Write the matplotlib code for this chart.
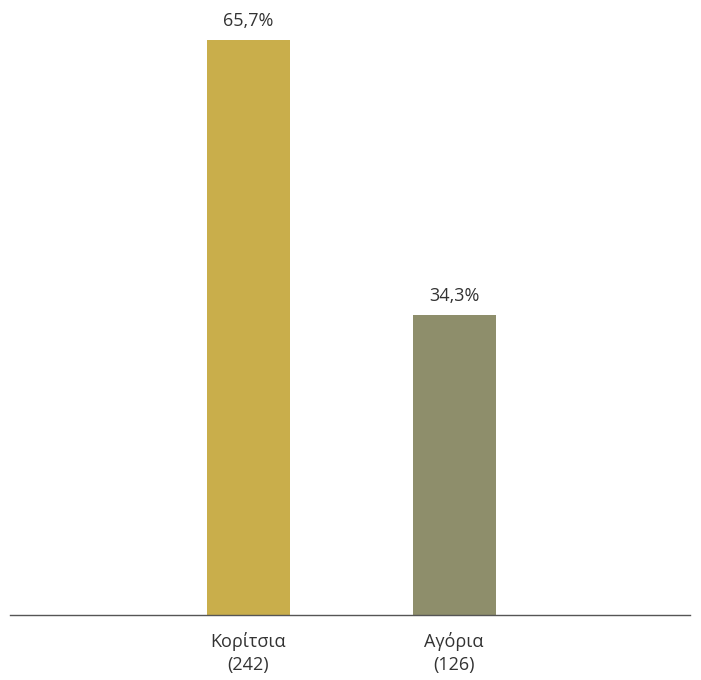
import matplotlib
matplotlib.use("Agg")
import matplotlib.pyplot as plt

categories = ["Κορίτσια\n(242)", "Αγόρια\n(126)"]
values = [65.7, 34.3]
value_labels = ["65,7%", "34,3%"]
colors = ["#C9AE4B", "#8E8E6B"]

plt.rcParams['font.family'] = ['Open Sans', 'DejaVu Sans']

fig = plt.figure(figsize=(7.01, 6.80), dpi=100)
W, H = 701, 680
ax = fig.add_axes([10 / W, 65 / H, 680 / W, 575 / H])
x = list(range(len(categories)))
bars = ax.bar(x, values, width=0.404, color=colors)
ax.set_ylim(0, 65.7)
ax.set_xlim(-1.1606, 2.148)
for xi, v, lab in zip(x, values, value_labels):
    ax.annotate(lab, (xi, v), xytext=(0, 7), textcoords="offset points",
                ha="center", va="bottom", fontsize=13, color="#333333",
                annotation_clip=False)
for s in ["top", "right", "left"]:
    ax.spines[s].set_visible(False)
ax.spines["bottom"].set_color("#555555")
ax.spines["bottom"].set_linewidth(1.0)
ax.set_yticks([])
ax.set_xticks(x)
ax.set_xticklabels(categories, fontsize=13, color="#333333", linespacing=1.4)
ax.tick_params(axis="x", length=0, pad=12)
fig.savefig("out.png", dpi=100, facecolor="white")
